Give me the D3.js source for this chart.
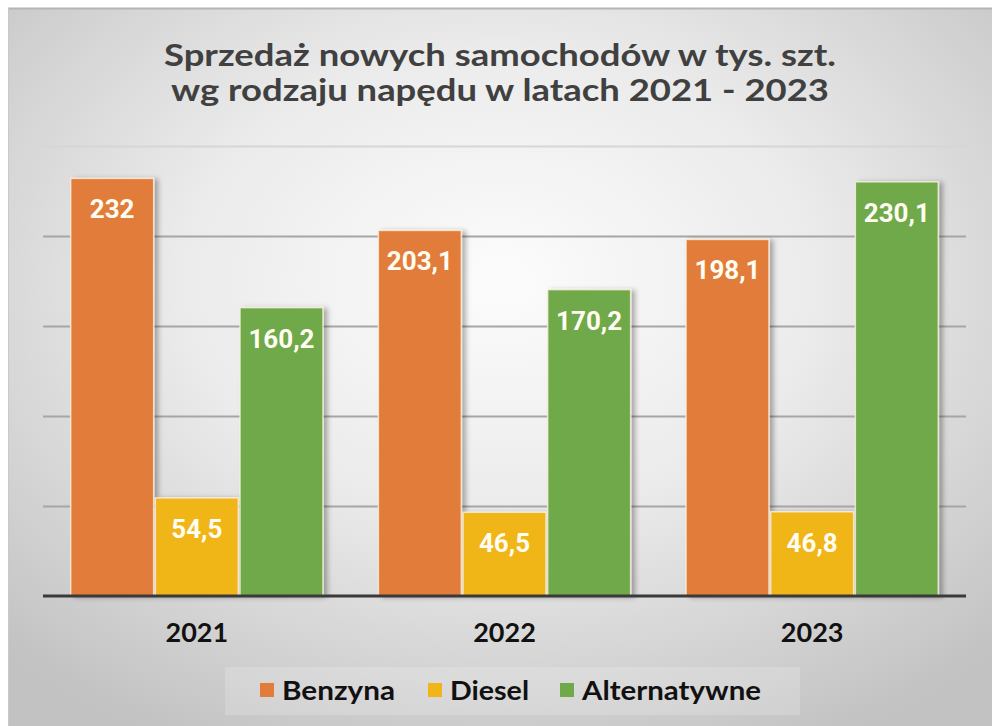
<!DOCTYPE html>
<html>
<head>
<meta charset="utf-8">
<script src="https://cdn.jsdelivr.net/npm/d3@7"></script>
<style>
  body { margin: 0; background: #fff; }
  svg { display: block; }
</style>
</head>
<body>
<script>
// Data
var years = ["2021", "2022", "2023"];
var seriesNames = ["Benzyna", "Diesel", "Alternatywne"];
var benzyna = [232, 203.1, 198.1];
var diesel = [54.5, 46.5, 46.8];
var alternatywne = [160.2, 170.2, 230.1];
var yTicks = [50, 100, 150, 200, 250];
var titleLines = ["Sprzedaż nowych samochodów w tys. szt.", "wg rodzaju napędu w latach 2021 - 2023"];

var colors = ["#e27c3a", "#f0b519", "#70a94a"];
var values = [benzyna, diesel, alternatywne];

var w = 992;
var h = 726;

var svg = d3.select("body").append("svg").attr("width", w).attr("height", h);

var defs = svg.append("defs");
var grad = defs.append("radialGradient")
  .attr("id", "bg")
  .attr("cx", "50%").attr("cy", "38%").attr("r", "72%");
grad.append("stop").attr("offset", "0%").attr("stop-color", "#fcfcfc");
grad.append("stop").attr("offset", "45%").attr("stop-color", "#ebebeb");
grad.append("stop").attr("offset", "100%").attr("stop-color", "#c2c2c2");

var shadow = defs.append("filter").attr("id", "shadow")
  .attr("x", "-20%").attr("y", "-10%").attr("width", "150%").attr("height", "130%");
shadow.append("feDropShadow")
  .attr("dx", 4).attr("dy", 1).attr("stdDeviation", 2.5)
  .attr("flood-color", "#000").attr("flood-opacity", 0.3);

//Background frame
svg.append("rect")
  .attr("x", 8).attr("y", 8).attr("width", w - 8).attr("height", h - 8)
  .attr("fill", "url(#bg)");
svg.append("line")
  .attr("x1", 8).attr("x2", w).attr("y1", 8.5).attr("y2", 8.5)
  .attr("stroke", "#b5b5b5").attr("stroke-width", 2);
svg.append("line")
  .attr("x1", 8.5).attr("x2", 8.5).attr("y1", 8).attr("y2", h)
  .attr("stroke", "#c9c9c9").attr("stroke-width", 1);

//Title
svg.selectAll(".title")
  .data(titleLines)
  .enter()
  .append("text")
  .attr("class", "title")
  .attr("x", 500)
  .attr("y", function (d, i) { return 66 + i * 35; })
  .attr("text-anchor", "middle")
  .attr("font-family", "Lato, sans-serif")
  .attr("font-weight", "bold")
  .attr("font-size", "30px")
  .attr("fill", "#404040")
  .attr("textLength", function (d, i) { return i === 0 ? 672 : 658; })
  .attr("lengthAdjust", "spacingAndGlyphs")
  .text(function (d) { return d; });

//Scales
var xScale = d3.scaleBand()
  .domain(years)
  .range([43, 966])
  .paddingInner(0.18)
  .paddingOuter(0.09);

var xInner = d3.scaleBand()
  .domain(seriesNames)
  .range([0, xScale.bandwidth()])
  .paddingInner(0.02);

var yScale = d3.scaleLinear()
  .domain([0, 250])
  .range([596, 146]);

//Gridlines
var grid = svg.append("g")
  .attr("transform", "translate(43,0)")
  .call(d3.axisLeft(yScale).tickValues(yTicks).tickSize(-923).tickFormat(""));
grid.select(".domain").remove();
grid.selectAll(".tick line")
  .attr("stroke", function (d) { return d === 250 ? "#d6d6d6" : "#a6a6a6"; })
  .attr("stroke-width", 2);

//Bars
var groups = svg.selectAll(".group")
  .data(years)
  .enter()
  .append("g")
  .attr("class", "group")
  .attr("transform", function (d) { return "translate(" + xScale(d) + ",0)"; });

groups.selectAll("rect")
  .data(function (d, i) {
    return seriesNames.map(function (s, j) {
      return { series: s, value: values[j][i], color: colors[j] };
    });
  })
  .enter()
  .append("rect")
  .attr("x", function (d) { return xInner(d.series); })
  .attr("y", function (d) { return yScale(d.value); })
  .attr("width", xInner.bandwidth())
  .attr("height", function (d) { return yScale(0) - yScale(d.value); })
  .attr("fill", function (d) { return d.color; })
  .attr("stroke", "#fdf1e0")
  .attr("stroke-opacity", 0.8)
  .attr("stroke-width", 1.5)
  .attr("filter", "url(#shadow)");

//Value labels
groups.selectAll(".val")
  .data(function (d, i) {
    return seriesNames.map(function (s, j) {
      return { series: s, value: values[j][i] };
    });
  })
  .enter()
  .append("text")
  .attr("class", "val")
  .attr("x", function (d) { return xInner(d.series) + xInner.bandwidth() / 2; })
  .attr("y", function (d) { return yScale(d.value) + 40; })
  .attr("text-anchor", "middle")
  .attr("font-family", "Roboto, sans-serif")
  .attr("font-weight", "bold")
  .attr("font-size", "26px")
  .attr("fill", "#fffdf2")
  .text(function (d) { return String(d.value).replace(".", ","); });

//Baseline and category axis
var xAxis = svg.append("g")
  .attr("transform", "translate(0," + yScale(0) + ")")
  .call(d3.axisBottom(xScale).tickSize(0).tickPadding(0));
xAxis.select(".domain")
  .attr("d", "M43,0H966")
  .attr("stroke", "#3a3a3a")
  .attr("stroke-width", 3);
xAxis.selectAll("text")
  .attr("dy", 0)
  .attr("y", 46)
  .attr("font-family", "Lato, sans-serif")
  .attr("font-weight", "bold")
  .attr("font-size", "27px")
  .attr("fill", "#111");

//Legend
svg.append("rect")
  .attr("x", 225).attr("y", 667).attr("width", 575).attr("height", 48)
  .attr("fill", "#ffffff").attr("fill-opacity", 0.18);

var legendX = [260, 428, 560];
var legendW = [113, 79, 179];
var legend = svg.selectAll(".legend")
  .data(seriesNames)
  .enter()
  .append("g")
  .attr("class", "legend")
  .attr("transform", function (d, i) { return "translate(" + legendX[i] + ",0)"; });

legend.append("rect")
  .attr("x", 0).attr("y", 683).attr("width", 14).attr("height", 14)
  .attr("fill", function (d, i) { return colors[i]; });

legend.append("text")
  .attr("x", 22)
  .attr("y", 700)
  .attr("font-family", "Lato, sans-serif")
  .attr("font-weight", "bold")
  .attr("font-size", "27px")
  .attr("fill", "#111")
  .attr("textLength", function (d, i) { return legendW[i]; })
  .attr("lengthAdjust", "spacingAndGlyphs")
  .text(function (d) { return d; });
</script>
</body>
</html>
